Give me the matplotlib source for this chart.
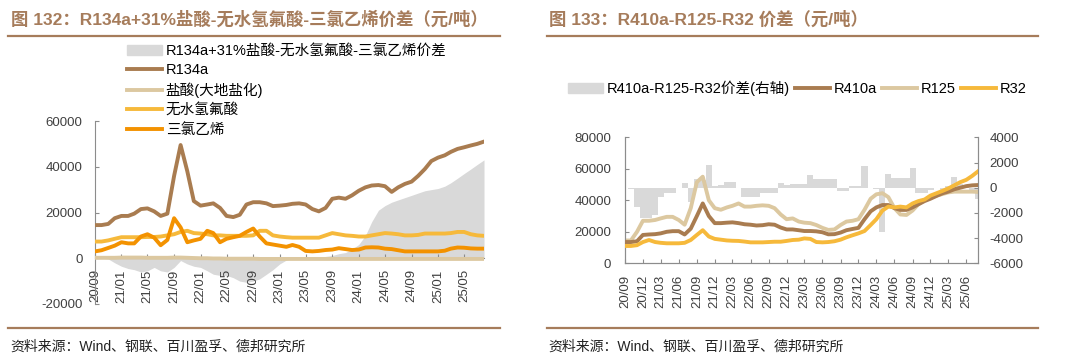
import matplotlib
matplotlib.use("Agg")
import matplotlib.pyplot as plt
import matplotlib.dates as mdates
from matplotlib.patches import Patch
from matplotlib.lines import Line2D
import pandas as pd

plt.rcParams['font.family'] = ['Liberation Sans', 'Noto Sans CJK SC', 'DejaVu Sans']
plt.rcParams['axes.unicode_minus'] = False

# monthly points, 2020/09 .. 2025/08
dates = pd.date_range('2020-09-01', periods=60, freq='MS')

# ---- left chart: R134a spread (yuan/t)
r134a = [14500, 14500, 15000, 17500, 18500, 18500, 19500, 21500, 21800, 20500,
         18500, 19500, 36000, 49500, 38000, 25000, 23000, 23500, 24000, 22000,
         18500, 18000, 19000, 23500, 24500, 24500, 24000, 22800, 23000, 23300,
         23800, 24000, 23500, 21500, 20500, 22000, 26000, 26500, 26000, 27500,
         29500, 31000, 31800, 32000, 31500, 29000, 31000, 32500, 33500, 36000,
         39000, 42500, 44000, 45000, 46500, 47800, 48500, 49300, 50000, 51000]
hcl = [200, 200, 200, 200, 300, 300, 300, 300, 200, 200,
       200, 200, 300, 300, 200, 100, 0, 0, -100, -100,
       -200, -200, -200, -200, -200, -300, -300, -300, -300, -300,
       -300, -300, -300, -300, -300, -300, -300, -300, -300, -300,
       -300, -300, -300, -300, -300, -300, -300, -300, -300, -300,
       -300, -300, -300, -300, -300, -300, -300, -300, -300, -300]
hf = [7300, 7300, 7800, 8500, 9200, 9200, 9200, 9200, 9300, 9300,
      9500, 10000, 10500, 11500, 12000, 11000, 10800, 10500, 10000, 10000,
      9800, 9800, 9800, 9800, 10000, 12000, 12000, 10000, 9500, 9200,
      9000, 9000, 9000, 9000, 9000, 10000, 11000, 10500, 10000, 9800,
      9500, 9500, 10000, 10500, 11000, 10800, 10500, 10000, 10000, 10200,
      10800, 10800, 10800, 10800, 11000, 11500, 11500, 10500, 10000, 9800]
tce = [3000, 3500, 4500, 5500, 7000, 6500, 6500, 9500, 10500, 9000,
       5700, 8000, 17500, 13500, 7000, 7800, 8500, 12000, 11000, 7000,
       8500, 9200, 9800, 11500, 13000, 9500, 6500, 6000, 5500, 5000,
       5800, 5000, 3200, 3000, 3200, 3600, 3800, 4400, 4000, 3600,
       3800, 4700, 4800, 4700, 4200, 4000, 3500, 3000, 3000, 3000,
       3000, 3000, 3000, 3300, 4200, 4700, 4600, 4300, 4200, 4200]
spread1 = [0, 0, -300, -2000, -3500, -4500, -5000, -6000, -5500, -4000,
           -5500, -6000, -4000, -1000, -2500, -3500, -4000, -5500, -7000, -7500,
           -7500, -8500, -10000, -10500, -10000, -9000, -7000, -5000, -2500, -800,
           0, -300, 200, 300, 500, 800, 1200, 2000, 2500, 4000,
           6000, 10000, 16000, 21000, 23000, 24500, 25500, 26500, 27500, 28500,
           29500, 30000, 30500, 31500, 33000, 35000, 37000, 39000, 41000, 43000]

# ---- right chart: R410a / R125 / R32
r410a = [13500, 13500, 14000, 18000, 18300, 18500, 19000, 20000, 20400, 20400,
         18300, 22000, 30000, 38000, 30000, 25500, 25500, 25800, 26000, 25500,
         24800, 24500, 24000, 24200, 24800, 24500, 22700, 21500, 21500, 21000,
         20500, 20500, 20300, 19700, 18400, 18500, 19500, 21000, 21800, 22500,
         28000, 33000, 35500, 37000, 37000, 35000, 33900, 33900, 35500, 37500,
         39500, 41000, 42800, 44500, 45500, 47000, 48000, 49000, 49500, 49700]
r125 = [14500, 14500, 20000, 27000, 27000, 27500, 28500, 29500, 29500, 27500,
        24500, 35000, 51500, 55000, 40000, 35000, 34000, 35500, 36500, 38000,
        36000, 36000, 36500, 36800, 36500, 35000, 31000, 28000, 28500, 26500,
        25800, 25500, 24300, 22500, 21200, 21500, 24300, 26500, 27000, 28000,
        34000, 41000, 43800, 44500, 42000, 35000, 31000, 30700, 33500, 37500,
        40000, 41500, 43000, 44000, 45000, 45500, 45500, 45500, 45500, 45300]
r32 = [11000, 11000, 11500, 13500, 14800, 13500, 13000, 12700, 12700, 12700,
       13000, 14800, 18000, 21000, 17000, 15500, 15000, 14500, 14300, 14200,
       13800, 13300, 13300, 13300, 13500, 13700, 13700, 14200, 14800, 15000,
       15800, 15500, 13500, 13300, 13500, 14000, 15000, 16500, 17800, 19000,
       20500, 24300, 28000, 33500, 36000, 35500, 36000, 35500, 38000, 39500,
       40500, 43000, 44500, 46000, 47500, 49500, 51500, 53000, 55500, 58500]
spread2 = [0, -100, -1500, -2400, -2400, -2200, -700, -450, -450, -50,
           350, -1100, 700, 600, 1800, 100, 200, 450, 450, 0,
           -700, -700, -700, -450, -450, -450, 350, 200, 300, 300,
           300, 1000, 700, 700, 700, 700, -300, -300, 100, 100,
           1700, 0, -100, -3500, 1100, 800, 800, 800, 1600, -450,
           -450, -200, 0, -150, 100, 850, 300, 100, -300, -900]

BROWN = '#a97c50'
TAN = '#dcc8a0'
YEL = '#f6b93b'
ORG = '#f39200'
GRAY = '#d9d9d9'
TITLE_C = '#a67c5b'
TXT = '#404040'
SPINE = '#8c8c8c'
LW = 2.8

fig = plt.figure(figsize=(10.8, 3.62), dpi=100)

def px(x, y):
    return x / 1080, 1 - y / 362

# titles and separators
fig.text(*px(11, 19), '图 132：R134a+31%盐酸-无水氢氟酸-三氯乙烯价差（元/吨）',
         fontsize=12.5, fontweight='bold', color=TITLE_C, va='center')
fig.text(*px(549, 19), '图 133：R410a-R125-R32 价差（元/吨）',
         fontsize=12.5, fontweight='bold', color=TITLE_C, va='center')
for x0, x1 in [(8, 500), (547, 1038)]:
    for yy in (36, 328):
        fig.add_artist(Line2D([x0 / 1080, x1 / 1080], [1 - yy / 362] * 2,
                              color=TITLE_C, lw=1.6, transform=fig.transFigure))
fig.text(*px(10, 347), '资料来源：Wind、钢联、百川盈孚、德邦研究所', fontsize=10, color='#222222', va='center')
fig.text(*px(548, 347), '资料来源：Wind、钢联、百川盈孚、德邦研究所', fontsize=10, color='#222222', va='center')

# ---------- left chart
ax = fig.add_axes([95 / 1080, 1 - 304 / 362, 389 / 1080, 183 / 362])
ax.fill_between(dates, 0, spread1, color=GRAY, lw=0, zorder=1)
ax.plot(dates, r134a, color=BROWN, lw=LW, zorder=3)
ax.plot(dates, hcl, color=TAN, lw=LW, zorder=3)
ax.plot(dates, hf, color=YEL, lw=LW, zorder=3)
ax.plot(dates, tce, color=ORG, lw=LW, zorder=4)
ax.set_ylim(-20000, 60000)
ax.set_yticks(range(-20000, 60001, 20000))
ax.set_xlim(dates[0], dates[-1])
ax.set_xticks(pd.date_range('2020-09-01', '2025-05-01', freq='4MS'))
ax.xaxis.set_major_formatter(mdates.DateFormatter('%y/%m'))
ax.spines['bottom'].set_position(('data', 0))
for s in ('top', 'right'):
    ax.spines[s].set_visible(False)
for s in ('left', 'bottom'):
    ax.spines[s].set_color(SPINE)
ax.tick_params(axis='x', direction='in', length=3, color=SPINE, labelrotation=90,
               labelsize=9.5, labelcolor=TXT, pad=8)
ax.tick_params(axis='y', direction='in', length=3, color=SPINE, labelsize=9.5,
               labelcolor=TXT, pad=9)

h1 = [Patch(color=GRAY),
      Line2D([], [], color=BROWN, lw=LW),
      Line2D([], [], color=TAN, lw=LW),
      Line2D([], [], color=YEL, lw=LW),
      Line2D([], [], color=ORG, lw=LW)]
l1 = ['R134a+31%盐酸-无水氢氟酸-三氯乙烯价差', 'R134a', '盐酸(大地盐化)', '无水氢氟酸', '三氯乙烯']
fig.legend(h1, l1, loc='upper left', bbox_to_anchor=px(127, 44), frameon=False,
           fontsize=10.5, handlelength=2.4, handletextpad=0.25, labelspacing=0.36,
           borderpad=0, borderaxespad=0)

# ---------- right chart
ax1 = fig.add_axes([625 / 1080, 1 - 263.3 / 362, 353.3 / 1080, 126 / 362])
ax2 = ax1.twinx()
ax2.bar(dates, spread2, width=31, color=GRAY, lw=0)
ax1.plot(dates, r410a, color=BROWN, lw=LW, zorder=3)
ax1.plot(dates, r125, color=TAN, lw=LW, zorder=2)
ax1.plot(dates, r32, color=YEL, lw=LW, zorder=4)
ax1.set_zorder(ax2.get_zorder() + 1)
ax1.patch.set_visible(False)
ax1.set_ylim(0, 80000)
ax1.set_yticks(range(0, 80001, 20000))
ax2.set_ylim(-6000, 4000)
ax2.set_yticks(range(-6000, 4001, 2000))
ax1.set_xlim(dates[0], dates[-1])
ax1.set_xticks(pd.date_range('2020-09-01', '2025-06-01', freq='3MS'))
ax1.xaxis.set_major_formatter(mdates.DateFormatter('%y/%m'))
for a in (ax1, ax2):
    a.spines['top'].set_visible(False)
    for s in ('left', 'right', 'bottom'):
        a.spines[s].set_color(SPINE)
ax1.tick_params(axis='x', direction='in', length=3, color=SPINE, labelrotation=90,
                labelsize=9.5, labelcolor=TXT, pad=8)
ax1.tick_params(axis='y', direction='in', length=3, color=SPINE, labelsize=9.5,
                labelcolor=TXT, pad=10)
ax2.tick_params(axis='y', direction='in', length=3, color=SPINE, labelsize=9.5,
                labelcolor=TXT, pad=8)

h2 = [Patch(color=GRAY),
      Line2D([], [], color=BROWN, lw=LW),
      Line2D([], [], color=TAN, lw=LW),
      Line2D([], [], color=YEL, lw=LW)]
l2 = ['R410a-R125-R32价差(右轴)', 'R410a', 'R125', 'R32']
fig.legend(h2, l2, loc='center left', bbox_to_anchor=px(568, 88), ncol=4, frameon=False,
           fontsize=10.5, handlelength=2.4, handletextpad=0.25, columnspacing=0.35,
           borderpad=0, borderaxespad=0)

fig.savefig('out.png', dpi=100)
